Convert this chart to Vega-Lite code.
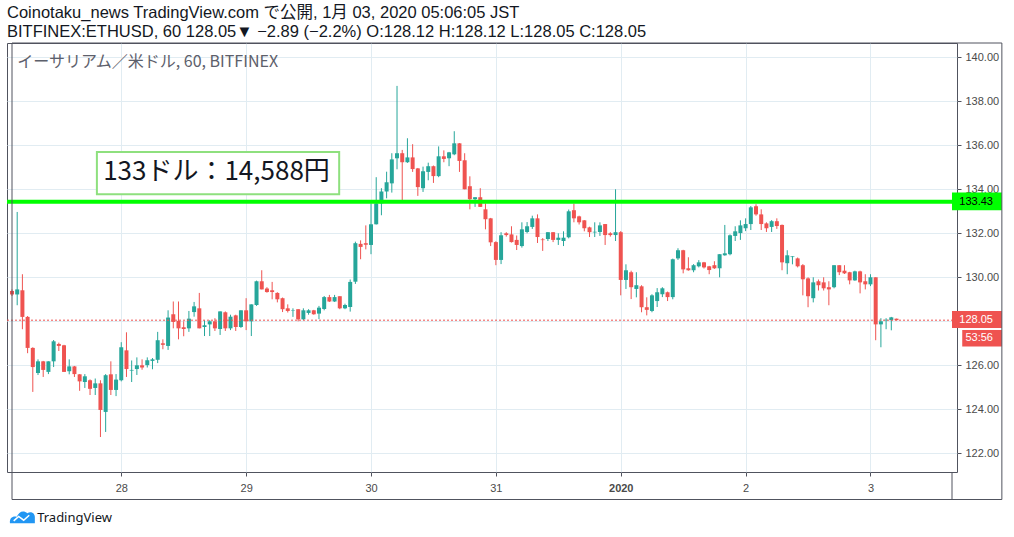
{
  "$schema": "https://vega.github.io/schema/vega-lite/v6.json",
  "width": 950,
  "height": 429,
  "autosize": {"type": "none"},
  "padding": {"left": 7, "top": 43, "right": 57, "bottom": 65},
  "background": "white",
  "title": {
    "text": "Coinotaku_news TradingView.com で公開, 1月 03, 2020 05:06:05 JST",
    "subtitle": "BITFINEX:ETHUSD, 60 128.05▼ −2.89 (−2.2%) O:128.12 H:128.12 L:128.05 C:128.05",
    "anchor": "start",
    "frame": "group",
    "offset": 2,
    "font": "Liberation Sans, Noto Sans CJK JP",
    "fontSize": 16.5,
    "fontWeight": "normal",
    "color": "#131722",
    "subtitleFont": "Liberation Sans, Noto Sans CJK JP",
    "subtitleFontSize": 16.5,
    "subtitleColor": "#131722",
    "subtitlePadding": 2.5
  },
  "datasets": {
    "candles": [
      {"t": "2019-12-27T03:00", "o": 129.38, "h": 129.45, "l": 129.15, "c": 129.22},
      {"t": "2019-12-27T04:00", "o": 129.22, "h": 132.97, "l": 128.73, "c": 129.45},
      {"t": "2019-12-27T05:00", "o": 129.41, "h": 130.14, "l": 127.64, "c": 128.2},
      {"t": "2019-12-27T06:00", "o": 128.2, "h": 128.24, "l": 126.55, "c": 126.79},
      {"t": "2019-12-27T07:00", "o": 126.79, "h": 126.82, "l": 124.79, "c": 125.92},
      {"t": "2019-12-27T08:00", "o": 125.65, "h": 126.27, "l": 125.56, "c": 126.18},
      {"t": "2019-12-27T09:00", "o": 126.18, "h": 126.2, "l": 125.47, "c": 125.79},
      {"t": "2019-12-27T10:00", "o": 125.7, "h": 126.18, "l": 125.6, "c": 126.18},
      {"t": "2019-12-27T11:00", "o": 126.18, "h": 127.15, "l": 125.92, "c": 127.09},
      {"t": "2019-12-27T12:00", "o": 126.97, "h": 127.03, "l": 126.65, "c": 126.88},
      {"t": "2019-12-27T13:00", "o": 126.91, "h": 126.93, "l": 125.7, "c": 125.7},
      {"t": "2019-12-27T14:00", "o": 125.73, "h": 126.27, "l": 125.59, "c": 125.95},
      {"t": "2019-12-27T15:00", "o": 125.95, "h": 125.97, "l": 125.47, "c": 125.6},
      {"t": "2019-12-27T16:00", "o": 125.59, "h": 125.6, "l": 124.84, "c": 125.27},
      {"t": "2019-12-27T17:00", "o": 125.24, "h": 125.6, "l": 124.97, "c": 125.5},
      {"t": "2019-12-27T18:00", "o": 125.32, "h": 125.36, "l": 124.65, "c": 124.93},
      {"t": "2019-12-27T19:00", "o": 124.97, "h": 125.4, "l": 124.65, "c": 125.18},
      {"t": "2019-12-27T20:00", "o": 125.18, "h": 125.32, "l": 122.74, "c": 123.97},
      {"t": "2019-12-27T21:00", "o": 123.88, "h": 125.6, "l": 122.97, "c": 125.55},
      {"t": "2019-12-27T22:00", "o": 125.59, "h": 126.18, "l": 124.65, "c": 124.88},
      {"t": "2019-12-27T23:00", "o": 124.88, "h": 125.6, "l": 124.6, "c": 125.35},
      {"t": "2019-12-28T00:00", "o": 125.32, "h": 127.05, "l": 125.27, "c": 126.82},
      {"t": "2019-12-28T01:00", "o": 126.68, "h": 127.5, "l": 125.47, "c": 125.83},
      {"t": "2019-12-28T02:00", "o": 125.76, "h": 126.22, "l": 125.24, "c": 125.79},
      {"t": "2019-12-28T03:00", "o": 125.83, "h": 126.36, "l": 125.56, "c": 126.0},
      {"t": "2019-12-28T04:00", "o": 126.0, "h": 126.27, "l": 125.8, "c": 125.9},
      {"t": "2019-12-28T05:00", "o": 126.01, "h": 126.36, "l": 125.9, "c": 126.23},
      {"t": "2019-12-28T06:00", "o": 126.2, "h": 126.33, "l": 125.82, "c": 126.27},
      {"t": "2019-12-28T07:00", "o": 126.25, "h": 127.52, "l": 126.1, "c": 127.14},
      {"t": "2019-12-28T08:00", "o": 127.0, "h": 127.18, "l": 126.73, "c": 126.93},
      {"t": "2019-12-28T09:00", "o": 126.88, "h": 128.5, "l": 126.7, "c": 128.17},
      {"t": "2019-12-28T10:00", "o": 128.32, "h": 128.9, "l": 127.68, "c": 127.97},
      {"t": "2019-12-28T11:00", "o": 128.02, "h": 128.9, "l": 127.18, "c": 127.68},
      {"t": "2019-12-28T12:00", "o": 127.73, "h": 128.0, "l": 127.32, "c": 127.65},
      {"t": "2019-12-28T13:00", "o": 127.68, "h": 128.47, "l": 127.52, "c": 128.12},
      {"t": "2019-12-28T14:00", "o": 128.42, "h": 128.88, "l": 128.21, "c": 128.68},
      {"t": "2019-12-28T15:00", "o": 128.59, "h": 129.29, "l": 127.68, "c": 127.68},
      {"t": "2019-12-28T16:00", "o": 127.74, "h": 128.05, "l": 127.33, "c": 127.82},
      {"t": "2019-12-28T17:00", "o": 127.86, "h": 128.05, "l": 127.33, "c": 128.0},
      {"t": "2019-12-28T18:00", "o": 128.0, "h": 128.14, "l": 127.56, "c": 127.68},
      {"t": "2019-12-28T19:00", "o": 127.65, "h": 128.45, "l": 127.38, "c": 128.45},
      {"t": "2019-12-28T20:00", "o": 128.41, "h": 128.45, "l": 127.56, "c": 127.68},
      {"t": "2019-12-28T21:00", "o": 127.68, "h": 128.3, "l": 127.6, "c": 128.21},
      {"t": "2019-12-28T22:00", "o": 128.27, "h": 128.3, "l": 127.56, "c": 127.74},
      {"t": "2019-12-28T23:00", "o": 127.74, "h": 128.5, "l": 127.7, "c": 128.5},
      {"t": "2019-12-29T00:00", "o": 128.5, "h": 129.05, "l": 127.6, "c": 128.0},
      {"t": "2019-12-29T01:00", "o": 128.0, "h": 128.77, "l": 127.33, "c": 128.77},
      {"t": "2019-12-29T02:00", "o": 128.74, "h": 129.85, "l": 128.7, "c": 129.82},
      {"t": "2019-12-29T03:00", "o": 129.82, "h": 130.32, "l": 129.45, "c": 129.45},
      {"t": "2019-12-29T04:00", "o": 129.49, "h": 129.55, "l": 129.3, "c": 129.33},
      {"t": "2019-12-29T05:00", "o": 129.41, "h": 129.79, "l": 129.0, "c": 129.33},
      {"t": "2019-12-29T06:00", "o": 129.29, "h": 129.32, "l": 128.86, "c": 129.0},
      {"t": "2019-12-29T07:00", "o": 129.05, "h": 129.08, "l": 128.42, "c": 128.55},
      {"t": "2019-12-29T08:00", "o": 128.59, "h": 128.77, "l": 128.4, "c": 128.47},
      {"t": "2019-12-29T09:00", "o": 128.48, "h": 128.59, "l": 128.2, "c": 128.5},
      {"t": "2019-12-29T10:00", "o": 128.55, "h": 128.55, "l": 128.0, "c": 128.09},
      {"t": "2019-12-29T11:00", "o": 128.09, "h": 128.59, "l": 128.05, "c": 128.5},
      {"t": "2019-12-29T12:00", "o": 128.38, "h": 128.55, "l": 128.3, "c": 128.5},
      {"t": "2019-12-29T13:00", "o": 128.5, "h": 128.52, "l": 128.3, "c": 128.32},
      {"t": "2019-12-29T14:00", "o": 128.35, "h": 128.7, "l": 128.1, "c": 128.62},
      {"t": "2019-12-29T15:00", "o": 128.56, "h": 129.15, "l": 128.5, "c": 129.1},
      {"t": "2019-12-29T16:00", "o": 129.1, "h": 129.2, "l": 128.88, "c": 128.9},
      {"t": "2019-12-29T17:00", "o": 128.9, "h": 129.2, "l": 128.88, "c": 129.1},
      {"t": "2019-12-29T18:00", "o": 129.14, "h": 129.14, "l": 128.55, "c": 128.59},
      {"t": "2019-12-29T19:00", "o": 128.59, "h": 128.8, "l": 128.55, "c": 128.74},
      {"t": "2019-12-29T20:00", "o": 128.65, "h": 129.9, "l": 128.44, "c": 129.79},
      {"t": "2019-12-29T21:00", "o": 129.8, "h": 131.62, "l": 129.7, "c": 131.55},
      {"t": "2019-12-29T22:00", "o": 131.52, "h": 131.68, "l": 130.82, "c": 131.38},
      {"t": "2019-12-29T23:00", "o": 131.55, "h": 132.36, "l": 131.27, "c": 131.48},
      {"t": "2019-12-30T00:00", "o": 131.47, "h": 133.36, "l": 131.05, "c": 132.41},
      {"t": "2019-12-30T01:00", "o": 132.41, "h": 134.55, "l": 132.4, "c": 133.36},
      {"t": "2019-12-30T02:00", "o": 133.36, "h": 134.05, "l": 132.82, "c": 133.9},
      {"t": "2019-12-30T03:00", "o": 133.9, "h": 134.8, "l": 133.59, "c": 134.32},
      {"t": "2019-12-30T04:00", "o": 134.27, "h": 135.64, "l": 133.85, "c": 135.36},
      {"t": "2019-12-30T05:00", "o": 135.41, "h": 138.7, "l": 134.91, "c": 135.64},
      {"t": "2019-12-30T06:00", "o": 135.64, "h": 135.79, "l": 133.5, "c": 135.23},
      {"t": "2019-12-30T07:00", "o": 135.23, "h": 136.32, "l": 135.2, "c": 135.45},
      {"t": "2019-12-30T08:00", "o": 135.45, "h": 136.05, "l": 134.79, "c": 134.92},
      {"t": "2019-12-30T09:00", "o": 134.95, "h": 134.97, "l": 133.7, "c": 134.1},
      {"t": "2019-12-30T10:00", "o": 134.05, "h": 135.03, "l": 133.88, "c": 134.82},
      {"t": "2019-12-30T11:00", "o": 134.79, "h": 135.21, "l": 134.41, "c": 135.05},
      {"t": "2019-12-30T12:00", "o": 135.05, "h": 135.08, "l": 134.29, "c": 134.6},
      {"t": "2019-12-30T13:00", "o": 134.6, "h": 135.95, "l": 134.55, "c": 135.5},
      {"t": "2019-12-30T14:00", "o": 135.5, "h": 135.77, "l": 135.23, "c": 135.38},
      {"t": "2019-12-30T15:00", "o": 135.41, "h": 135.7, "l": 135.05, "c": 135.68},
      {"t": "2019-12-30T16:00", "o": 135.59, "h": 136.64, "l": 135.55, "c": 136.09},
      {"t": "2019-12-30T17:00", "o": 136.09, "h": 136.1, "l": 134.79, "c": 135.29},
      {"t": "2019-12-30T18:00", "o": 135.32, "h": 135.64, "l": 134.0, "c": 134.0},
      {"t": "2019-12-30T19:00", "o": 134.14, "h": 134.59, "l": 133.09, "c": 133.55},
      {"t": "2019-12-30T20:00", "o": 133.55, "h": 133.64, "l": 133.2, "c": 133.64},
      {"t": "2019-12-30T21:00", "o": 133.64, "h": 134.05, "l": 133.2, "c": 133.2},
      {"t": "2019-12-30T22:00", "o": 133.09, "h": 133.36, "l": 132.18, "c": 132.64},
      {"t": "2019-12-30T23:00", "o": 132.68, "h": 132.7, "l": 131.42, "c": 131.59},
      {"t": "2019-12-31T00:00", "o": 131.6, "h": 131.64, "l": 130.55, "c": 130.79},
      {"t": "2019-12-31T01:00", "o": 130.79, "h": 132.05, "l": 130.6, "c": 131.91},
      {"t": "2019-12-31T02:00", "o": 132.0, "h": 132.05, "l": 131.85, "c": 131.92},
      {"t": "2019-12-31T03:00", "o": 131.95, "h": 132.32, "l": 131.58, "c": 131.6},
      {"t": "2019-12-31T04:00", "o": 131.7, "h": 131.9, "l": 131.24, "c": 131.47},
      {"t": "2019-12-31T05:00", "o": 131.42, "h": 132.5, "l": 131.35, "c": 132.18},
      {"t": "2019-12-31T06:00", "o": 132.06, "h": 132.51, "l": 132.0, "c": 132.32},
      {"t": "2019-12-31T07:00", "o": 132.29, "h": 132.8, "l": 132.2, "c": 132.68},
      {"t": "2019-12-31T08:00", "o": 132.68, "h": 132.86, "l": 131.56, "c": 131.83},
      {"t": "2019-12-31T09:00", "o": 131.72, "h": 131.78, "l": 131.2, "c": 131.69},
      {"t": "2019-12-31T10:00", "o": 131.74, "h": 132.05, "l": 131.65, "c": 132.05},
      {"t": "2019-12-31T11:00", "o": 132.05, "h": 132.05, "l": 131.6, "c": 131.7},
      {"t": "2019-12-31T12:00", "o": 131.7, "h": 132.0, "l": 131.47, "c": 131.8},
      {"t": "2019-12-31T13:00", "o": 131.65, "h": 132.09, "l": 131.42, "c": 131.8},
      {"t": "2019-12-31T14:00", "o": 131.82, "h": 133.08, "l": 131.77, "c": 133.0},
      {"t": "2019-12-31T15:00", "o": 133.05, "h": 133.35, "l": 132.5, "c": 132.68},
      {"t": "2019-12-31T16:00", "o": 132.77, "h": 132.8, "l": 132.4, "c": 132.5},
      {"t": "2019-12-31T17:00", "o": 132.59, "h": 132.6, "l": 132.09, "c": 132.23},
      {"t": "2019-12-31T18:00", "o": 132.27, "h": 132.3, "l": 131.83, "c": 132.05},
      {"t": "2019-12-31T19:00", "o": 132.04, "h": 132.5, "l": 131.83, "c": 132.07},
      {"t": "2019-12-31T20:00", "o": 132.06, "h": 132.5, "l": 131.88, "c": 132.36},
      {"t": "2019-12-31T21:00", "o": 132.42, "h": 132.42, "l": 131.47, "c": 131.92},
      {"t": "2019-12-31T22:00", "o": 132.0, "h": 132.05, "l": 131.85, "c": 131.92},
      {"t": "2019-12-31T23:00", "o": 131.92, "h": 134.0, "l": 131.65, "c": 132.05},
      {"t": "2020-01-01T00:00", "o": 132.05, "h": 132.1, "l": 129.18, "c": 129.88},
      {"t": "2020-01-01T01:00", "o": 129.88, "h": 130.59, "l": 129.47, "c": 130.32},
      {"t": "2020-01-01T02:00", "o": 130.23, "h": 130.3, "l": 129.01, "c": 129.55},
      {"t": "2020-01-01T03:00", "o": 129.47, "h": 130.23, "l": 129.09, "c": 129.64},
      {"t": "2020-01-01T04:00", "o": 129.59, "h": 129.64, "l": 128.41, "c": 128.64},
      {"t": "2020-01-01T05:00", "o": 128.64, "h": 129.09, "l": 128.27, "c": 128.52},
      {"t": "2020-01-01T06:00", "o": 128.47, "h": 129.23, "l": 128.41, "c": 129.18},
      {"t": "2020-01-01T07:00", "o": 128.92, "h": 129.51, "l": 128.65, "c": 129.32},
      {"t": "2020-01-01T08:00", "o": 129.23, "h": 129.55, "l": 129.1, "c": 129.5},
      {"t": "2020-01-01T09:00", "o": 129.32, "h": 129.35, "l": 128.92, "c": 129.1},
      {"t": "2020-01-01T10:00", "o": 129.1, "h": 130.85, "l": 129.0, "c": 130.82},
      {"t": "2020-01-01T11:00", "o": 130.86, "h": 131.32, "l": 130.79, "c": 131.23},
      {"t": "2020-01-01T12:00", "o": 131.23, "h": 131.25, "l": 130.18, "c": 130.36},
      {"t": "2020-01-01T13:00", "o": 130.41, "h": 130.91, "l": 130.3, "c": 130.32},
      {"t": "2020-01-01T14:00", "o": 130.32, "h": 130.6, "l": 130.23, "c": 130.55},
      {"t": "2020-01-01T15:00", "o": 130.5, "h": 130.78, "l": 130.45, "c": 130.68},
      {"t": "2020-01-01T16:00", "o": 130.68, "h": 130.7, "l": 130.4, "c": 130.45},
      {"t": "2020-01-01T17:00", "o": 130.5, "h": 130.52, "l": 130.14, "c": 130.33},
      {"t": "2020-01-01T18:00", "o": 130.55, "h": 130.73, "l": 130.38, "c": 130.41},
      {"t": "2020-01-01T19:00", "o": 130.41, "h": 131.05, "l": 130.0, "c": 131.05},
      {"t": "2020-01-01T20:00", "o": 131.0, "h": 132.38, "l": 130.98, "c": 131.09},
      {"t": "2020-01-01T21:00", "o": 131.05, "h": 131.95, "l": 131.0, "c": 131.91},
      {"t": "2020-01-01T22:00", "o": 131.88, "h": 132.32, "l": 131.65, "c": 132.09},
      {"t": "2020-01-01T23:00", "o": 132.01, "h": 132.59, "l": 131.7, "c": 132.36},
      {"t": "2020-01-02T00:00", "o": 132.23, "h": 132.68, "l": 132.1, "c": 132.42},
      {"t": "2020-01-02T01:00", "o": 132.42, "h": 133.24, "l": 132.15, "c": 133.18},
      {"t": "2020-01-02T02:00", "o": 133.23, "h": 133.32, "l": 132.8, "c": 132.86},
      {"t": "2020-01-02T03:00", "o": 132.86, "h": 133.09, "l": 132.15, "c": 132.42},
      {"t": "2020-01-02T04:00", "o": 132.45, "h": 132.5, "l": 132.06, "c": 132.23},
      {"t": "2020-01-02T05:00", "o": 132.29, "h": 132.6, "l": 132.06, "c": 132.55},
      {"t": "2020-01-02T06:00", "o": 132.55, "h": 132.68, "l": 132.2, "c": 132.33},
      {"t": "2020-01-02T07:00", "o": 132.38, "h": 132.4, "l": 130.32, "c": 130.68},
      {"t": "2020-01-02T08:00", "o": 130.64, "h": 131.23, "l": 130.14, "c": 131.0},
      {"t": "2020-01-02T09:00", "o": 130.92, "h": 130.96, "l": 130.59, "c": 130.95},
      {"t": "2020-01-02T10:00", "o": 130.86, "h": 130.9, "l": 130.45, "c": 130.5},
      {"t": "2020-01-02T11:00", "o": 130.55, "h": 130.6, "l": 129.18, "c": 129.91},
      {"t": "2020-01-02T12:00", "o": 129.95, "h": 130.0, "l": 128.64, "c": 129.14},
      {"t": "2020-01-02T13:00", "o": 129.05, "h": 130.0, "l": 128.86, "c": 129.77},
      {"t": "2020-01-02T14:00", "o": 129.82, "h": 129.9, "l": 129.4, "c": 129.64},
      {"t": "2020-01-02T15:00", "o": 129.77, "h": 130.0, "l": 129.4, "c": 129.5},
      {"t": "2020-01-02T16:00", "o": 129.55, "h": 129.82, "l": 128.73, "c": 129.45},
      {"t": "2020-01-02T17:00", "o": 129.55, "h": 130.55, "l": 129.5, "c": 130.55},
      {"t": "2020-01-02T18:00", "o": 130.55, "h": 130.55, "l": 130.1, "c": 130.23},
      {"t": "2020-01-02T19:00", "o": 130.3, "h": 130.55, "l": 130.15, "c": 130.18},
      {"t": "2020-01-02T20:00", "o": 130.23, "h": 130.25, "l": 129.68, "c": 129.86},
      {"t": "2020-01-02T21:00", "o": 129.86, "h": 130.3, "l": 129.84, "c": 130.27},
      {"t": "2020-01-02T22:00", "o": 130.27, "h": 130.3, "l": 129.27, "c": 129.77},
      {"t": "2020-01-02T23:00", "o": 129.82, "h": 130.14, "l": 129.45, "c": 129.68},
      {"t": "2020-01-03T00:00", "o": 129.68, "h": 130.14, "l": 129.6, "c": 130.0},
      {"t": "2020-01-03T01:00", "o": 130.0, "h": 130.0, "l": 127.14, "c": 127.86},
      {"t": "2020-01-03T02:00", "o": 127.86, "h": 128.14, "l": 126.82, "c": 128.0},
      {"t": "2020-01-03T03:00", "o": 128.04, "h": 128.14, "l": 127.64, "c": 128.07},
      {"t": "2020-01-03T04:00", "o": 128.05, "h": 128.2, "l": 127.59, "c": 128.18},
      {"t": "2020-01-03T05:00", "o": 128.12, "h": 128.12, "l": 128.05, "c": 128.05}
    ]
  },
  "layer": [
    {
      "data": {"name": "candles"},
      "mark": {"type": "rule", "strokeWidth": 1, "clip": true},
      "encoding": {
        "x": {
          "field": "t",
          "type": "temporal",
          "scale": {
            "domain": [
              {"year": 2019, "month": 12, "date": 27, "hours": 3},
              {"year": 2020, "month": 1, "date": 3, "hours": 15, "minutes": 40}
            ],
            "nice": false
          },
          "axis": {
            "title": null,
            "values": [
              {"year": 2019, "month": 12, "date": 28},
              {"year": 2019, "month": 12, "date": 29},
              {"year": 2019, "month": 12, "date": 30},
              {"year": 2019, "month": 12, "date": 31},
              {"year": 2020, "month": 1, "date": 1},
              {"year": 2020, "month": 1, "date": 2},
              {"year": 2020, "month": 1, "date": 3}
            ],
            "labelExpr": "month(datum.value) == 0 && date(datum.value) == 1 ? timeFormat(datum.value, '%Y') : timeFormat(datum.value, '%-d')",
            "labelFontWeight": {"condition": {"test": "month(datum.value) == 0 && date(datum.value) == 1", "value": "bold"}, "value": "normal"},
            "grid": true,
            "domain": false,
            "tickSize": 4,
            "labelPadding": 6,
            "labelFlush": false
          }
        },
        "y": {
          "field": "l",
          "type": "quantitative",
          "scale": {"domain": [121.15, 140.65], "nice": false, "zero": false},
          "axis": {
            "title": null,
            "orient": "right",
            "values": [122, 124, 126, 128, 130, 132, 134, 136, 138, 140],
            "labelExpr": "datum.value == 128 ? '' : format(datum.value, '.2f')",
            "grid": true,
            "domain": false,
            "tickSize": 4,
            "labelPadding": 4
          }
        },
        "y2": {"field": "h"},
        "color": {"condition": {"test": "datum.c >= datum.o", "value": "#26a69a"}, "value": "#ef5350"}
      }
    },
    {
      "data": {"name": "candles"},
      "mark": {"type": "bar", "size": 4, "clip": true},
      "encoding": {
        "x": {"field": "t", "type": "temporal"},
        "y": {"field": "o", "type": "quantitative"},
        "y2": {"field": "c"},
        "color": {"condition": {"test": "datum.c >= datum.o", "value": "#26a69a"}, "value": "#ef5350"}
      }
    },
    {
      "data": {"values": [{}]},
      "mark": {"type": "rule", "color": "#ef5350", "strokeWidth": 1, "strokeDash": [2, 2]},
      "encoding": {"y": {"datum": 128.05, "type": "quantitative"}}
    },
    {
      "data": {"values": [{}]},
      "mark": {"type": "rule", "color": "#00ff00", "strokeWidth": 4},
      "encoding": {"y": {"datum": 133.43, "type": "quantitative"}}
    },
    {
      "data": {"values": [{}]},
      "mark": {"type": "rect", "fill": "white", "stroke": "#8ee07e", "strokeWidth": 2},
      "encoding": {
        "x": {"datum": {"year": 2019, "month": 12, "date": 27, "hours": 19, "minutes": 19}, "type": "temporal"},
        "x2": {"datum": {"year": 2019, "month": 12, "date": 29, "hours": 17, "minutes": 53}},
        "y": {"datum": 135.7, "type": "quantitative"},
        "y2": {"datum": 133.77}
      }
    },
    {
      "data": {"values": [{"label": "133ドル：14,588円"}]},
      "mark": {"type": "text", "align": "left", "baseline": "middle", "font": "Noto Sans CJK JP", "fontSize": 26, "color": "#131722"},
      "encoding": {
        "x": {"datum": {"year": 2019, "month": 12, "date": 27, "hours": 20, "minutes": 31}, "type": "temporal"},
        "y": {"datum": 134.78, "type": "quantitative"},
        "text": {"field": "label"}
      }
    },
    {
      "data": {"values": [{"label": "イーサリアム／米ドル, 60, BITFINEX"}]},
      "mark": {"type": "text", "align": "left", "baseline": "middle", "font": "Noto Sans CJK JP", "fontSize": 16, "color": "#5d606b"},
      "encoding": {
        "x": {"datum": {"year": 2019, "month": 12, "date": 27, "hours": 4}, "type": "temporal"},
        "y": {"datum": 139.8, "type": "quantitative"},
        "text": {"field": "label"}
      }
    },
    {
      "data": {"values": [
        {"tag": "133.43", "top": 133.85, "bottom": 133.05, "kind": "green"},
        {"tag": "128.05", "top": 128.47, "bottom": 127.69, "kind": "red"}
      ]},
      "mark": {"type": "rect"},
      "encoding": {
        "x": {"datum": {"year": 2020, "month": 1, "date": 3, "hours": 15, "minutes": 40}, "type": "temporal"},
        "x2": {"datum": {"year": 2020, "month": 1, "date": 4, "hours": 1, "minutes": 15}},
        "y": {"field": "top", "type": "quantitative"},
        "y2": {"field": "bottom"},
        "color": {"condition": {"test": "datum.kind == 'green'", "value": "#00ff00"}, "value": "#ef5350"}
      }
    },
    {
      "data": {"values": [{}]},
      "mark": {"type": "rect", "color": "#ef5350"},
      "encoding": {
        "x": {"datum": {"year": 2020, "month": 1, "date": 3, "hours": 17, "minutes": 38}, "type": "temporal"},
        "x2": {"datum": {"year": 2020, "month": 1, "date": 4, "hours": 1, "minutes": 15}},
        "y": {"datum": 127.6, "type": "quantitative"},
        "y2": {"datum": 126.85}
      }
    },
    {
      "data": {"values": [
        {"tag": "133.43", "mid": 133.43, "kind": "green"},
        {"tag": "128.05", "mid": 128.06, "kind": "red"},
        {"tag": "53:56", "mid": 127.22, "kind": "red"}
      ]},
      "mark": {"type": "text", "align": "right", "baseline": "middle", "font": "Liberation Sans", "fontSize": 11},
      "encoding": {
        "x": {"datum": {"year": 2020, "month": 1, "date": 3, "hours": 23, "minutes": 32}, "type": "temporal"},
        "y": {"field": "mid", "type": "quantitative"},
        "text": {"field": "tag"},
        "color": {"condition": {"test": "datum.kind == 'green'", "value": "#000000"}, "value": "#ffffff"}
      }
    },
    {
      "data": {"values": [{}]},
      "mark": {"type": "rect", "fillOpacity": 0, "stroke": "#50535e", "strokeWidth": 1},
      "encoding": {
        "x": {"datum": {"year": 2019, "month": 12, "date": 27, "hours": 3}, "type": "temporal"},
        "x2": {"datum": {"year": 2020, "month": 1, "date": 4, "hours": 1, "minutes": 15}},
        "y": {"datum": 140.65, "type": "quantitative"},
        "y2": {"datum": 119.9}
      }
    },
    {
      "data": {"values": [{}]},
      "mark": {"type": "rule", "color": "#50535e", "strokeWidth": 1},
      "encoding": {
        "x": {"datum": {"year": 2020, "month": 1, "date": 3, "hours": 15, "minutes": 40}, "type": "temporal"},
        "y": {"datum": 121.15, "type": "quantitative"},
        "y2": {"datum": 119.9}
      }
    },
    {
      "data": {"values": [{}]},
      "mark": {"type": "point", "shape": "M -1 0.5 C -1.05 0.05 -0.75 -0.1 -0.45 -0.02 C -0.3 -0.45 0.1 -0.6 0.4 -0.3 C 0.65 -0.5 1.05 -0.35 1 0.1 L 1 0.5 Z", "filled": true, "size": 620, "color": "#2196f3", "opacity": 1},
      "encoding": {
        "x": {"datum": {"year": 2019, "month": 12, "date": 27, "hours": 5, "minutes": 0}, "type": "temporal"},
        "y": {"datum": 119.1, "type": "quantitative"}
      }
    },
    {
      "data": {"values": [{}]},
      "mark": {"type": "point", "shape": "M -0.7 0.3 L -0.3 -0.05 L 0.1 0.25 L 0.55 -0.15", "filled": false, "size": 620, "color": "#ffffff", "strokeWidth": 1.5, "opacity": 1},
      "encoding": {
        "x": {"datum": {"year": 2019, "month": 12, "date": 27, "hours": 5, "minutes": 0}, "type": "temporal"},
        "y": {"datum": 119.1, "type": "quantitative"}
      }
    },
    {
      "data": {"values": [{"label": "TradingView"}]},
      "mark": {"type": "text", "align": "left", "baseline": "middle", "font": "Noto Sans", "fontSize": 13, "color": "#131722"},
      "encoding": {
        "x": {"datum": {"year": 2019, "month": 12, "date": 27, "hours": 7, "minutes": 50}, "type": "temporal"},
        "y": {"datum": 119.06, "type": "quantitative"},
        "text": {"field": "label"}
      }
    }
  ],
  "config": {
    "view": {"stroke": "#50535e", "strokeWidth": 1},
    "axis": {
      "labelFont": "Liberation Sans",
      "labelFontSize": 11,
      "labelColor": "#4a4a4a",
      "gridColor": "#e1ecf2",
      "gridWidth": 1,
      "tickColor": "#50535e"
    }
  }
}
